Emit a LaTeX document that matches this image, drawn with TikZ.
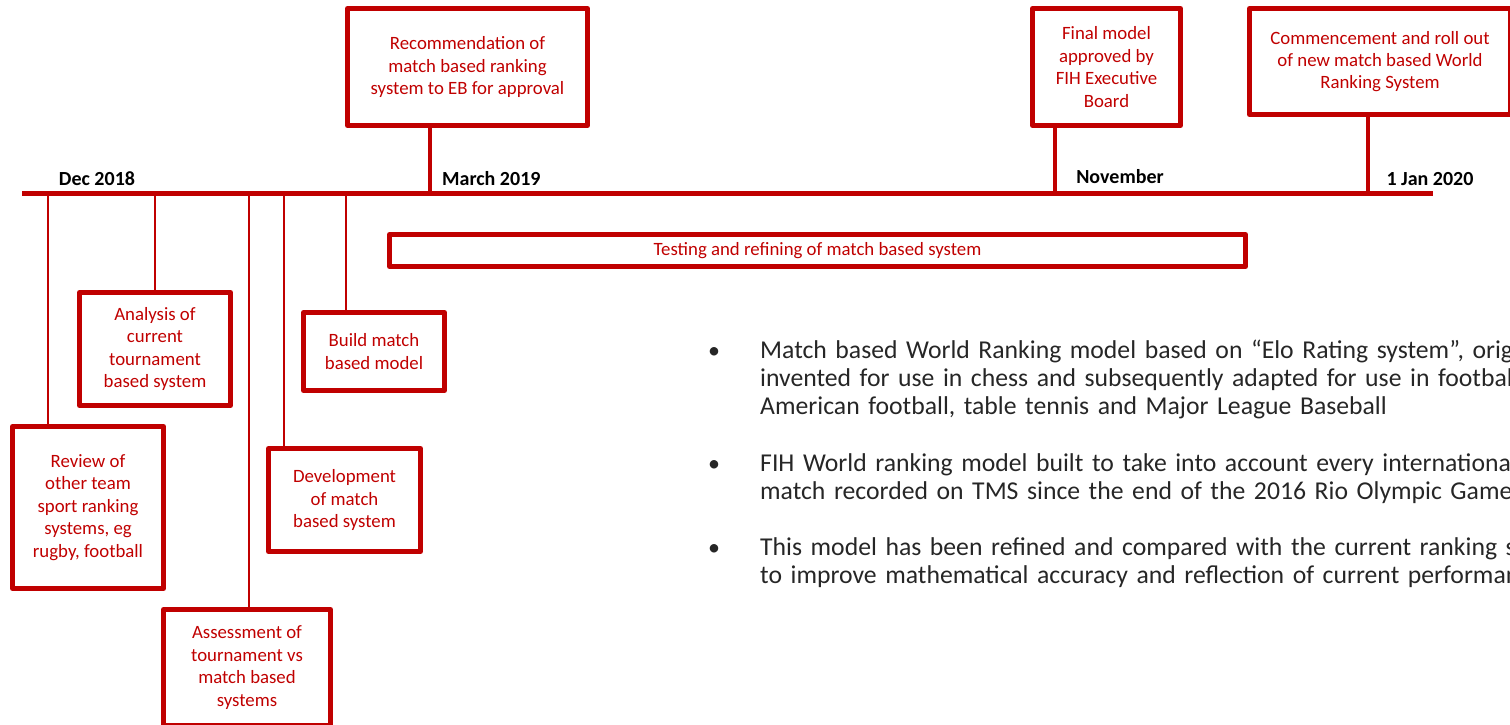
\documentclass[tikz,border=0pt]{standalone}
\usepackage{fontspec}
\setmainfont{Carlito}
\usetikzlibrary{calc}
\definecolor{fihred}{RGB}{192,0,0}
\definecolor{bodygrey}{RGB}{38,38,38}
\tikzset{
	box/.style={draw=fihred, line width=5pt, line join=round, text=fihred, align=center, inner sep=0pt, font=\fontsize{18.8}{22.4}\selectfont},
	stem/.style={draw=fihred, line width=4pt},
	drop/.style={draw=fihred, line width=2pt},
	axis/.style={draw=fihred, line width=5pt},
	datelbl/.style={font=\fontsize{20}{24}\selectfont\bfseries, anchor=base, inner sep=0pt},
	note/.style={font=\fontsize{25.7}{28}\selectfont, text=bodygrey, align=left, text width=900pt, anchor=base west, inner sep=0pt},
	dot/.style={font=\fontsize{24}{28}\selectfont, text=bodygrey, anchor=base, inner sep=0pt}
}
\newcommand{\ebox}[6] % name, left, top, right, bottom (outer, px), text
{
	\node[box, minimum width={#4-#2-5}, minimum height={#5-#3-5}] (#1) at ({(#2+#4)/2},{(#3+#5)/2}) {#6};
}

\begin{document}
\begin{tikzpicture}[x=1pt, y=-1pt]
	% page: 1510 x 725 px
	\useasboundingbox (0,0) rectangle (1510,725);
	\clip (0,0) rectangle (1510,725);
	
	% time axis
	\coordinate (tl0) at (22,193);
	\coordinate (tl1) at (1433,193);
	\draw[axis] (tl0) -- (tl1);
	
	\node[datelbl] (dec) at (97,185) {Dec 2018};
	\node[datelbl, anchor=base west] (mar) at (442,185) {March 2019};
	\node[datelbl] (nov) at (1120,183) {November};
	\node[datelbl] (jan) at (1430,185) {1 Jan 2020};
	
	% milestones above the axis
	\ebox{rec}{345}{6}{590}{128}{Recommendation of\\match based ranking\\system to EB for approval};
	\ebox{final}{1030}{6}{1183}{128}{Final model\\approved by\\FIH Executive\\Board};
	\ebox{roll}{1247}{6}{1513}{117}{Commencement and roll out\\of new match based World\\Ranking System};
	
	\coordinate (m1) at (430,193);
	\coordinate (m2) at (1055,193);
	\coordinate (m3) at (1368,193);
	\draw[stem] (m1) -- (m1 |- rec.south);
	\draw[stem] (m2) -- (m2 |- final.south);
	\draw[stem] (m3) -- (m3 |- roll.south);
	
	% testing bar
	\ebox{test}{387}{232}{1248}{269}{Testing and refining of match based system};
	
	% tasks below the axis
	\ebox{analysis}{77}{290}{233}{408}{Analysis of\\current\\tournament\\based system};
	\ebox{build}{301}{310}{447}{393}{Build match\\based model};
	\ebox{review}{10}{424}{166}{591}{Review of\\other team\\sport ranking\\systems, eg\\rugby, football};
	\ebox{develop}{266}{446}{423}{554}{Development\\of match\\based system};
	\ebox{assess}{161}{607}{333}{728}{Assessment of\\tournament vs\\match based\\systems};
	
	\coordinate (d1) at (48,193);
	\coordinate (d2) at (155,193);
	\coordinate (d3) at (249,193);
	\coordinate (d4) at (284,193);
	\coordinate (d5) at (346,193);
	\draw[drop] (d1) -- (d1 |- review.north);
	\draw[drop] (d2) -- (d2 |- analysis.north);
	\draw[drop] (d3) -- (d3 |- assess.north);
	\draw[drop] (d4) -- (d4 |- develop.north);
	\draw[drop] (d5) -- (d5 |- build.north);
	
	% notes
	\node[dot] (p1) at (714,358) {•};
	\node[note] (n1) at (760,358) {Match based World Ranking model based on “Elo Rating system”, originally\\invented for use in chess and subsequently adapted for use in football,\\American football, table tennis and Major League Baseball};
	\node[dot] (p2) at (714,471) {•};
	\node[note] (n2) at (760,471) {FIH World ranking model built to take into account every international\\match recorded on TMS since the end of the 2016 Rio Olympic Games};
	\node[dot] (p3) at (714,555) {•};
	\node[note] (n3) at (760,555) {This model has been refined and compared with the current ranking system\\to improve mathematical accuracy and reflection of current performance};
\end{tikzpicture}
\end{document}
